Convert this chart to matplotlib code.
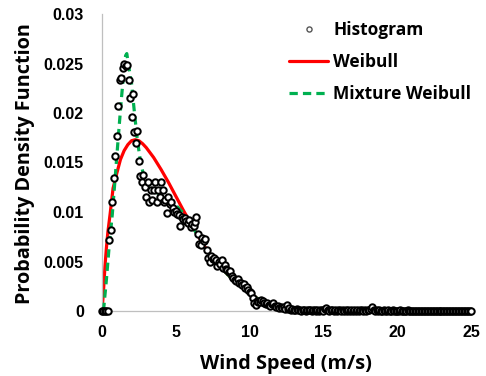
import numpy as np
import matplotlib
matplotlib.use("Agg")
import matplotlib.pyplot as plt
from matplotlib import font_manager

# ---------------- data ----------------
BIN_WIDTH = 0.1
hist_density = [
    # 0.0 - 0.9
    0, 0, 0, 0, 0, 0.0072, 0.0082, 0.0110, 0.0134, 0.0157,
    # 1.0 - 1.9
    0.0177, 0.0207, 0.0233, 0.0235, 0.0245, 0.0249, 0.0247, 0.0248, 0.0233, 0.0215,
    # 2.0 - 2.9
    0.0196, 0.0219, 0.0181, 0.0170, 0.0182, 0.0152, 0.0136, 0.0130, 0.0137, 0.0125,
    # 3.0 - 3.9
    0.0115, 0.0130, 0.0110, 0.0122, 0.0112, 0.0122, 0.0130, 0.0110, 0.0122, 0.0115,
    # 4.0 - 4.9
    0.0130, 0.0122, 0.0110, 0.0112, 0.0099, 0.0115, 0.0108, 0.0110, 0.0104, 0.0100,
    # 5.0 - 5.9
    0.0101, 0.0098, 0.0097, 0.0086, 0.0095, 0.0093, 0.0094, 0.0091, 0.0089, 0.0092,
    # 6.0 - 6.9
    0.0085, 0.0088, 0.0086, 0.0090, 0.0095, 0.0078, 0.0068, 0.0067, 0.0074, 0.0071,
    # 7.0 - 7.9
    0.0073, 0.0062, 0.0054, 0.0050, 0.0056, 0.0053, 0.0054, 0.0052, 0.0045, 0.0049,
    # 8.0 - 8.9
    0.0047, 0.0052, 0.0043, 0.0046, 0.0042, 0.0041, 0.0039, 0.0040, 0.0035, 0.0033,
    # 9.0 - 9.9
    0.0031, 0.0030, 0.0032, 0.0028, 0.0028, 0.0026, 0.0027, 0.0023, 0.0024, 0.0021,
    # 10.0 - 10.9
    0.0019, 0.0018, 0.0013, 0.0008, 0.0006, 0.0010, 0.0009, 0.0009, 0.0011, 0.0010,
    # 11.0 - 11.9
    0.0008, 0.0007, 0.0008, 0.0006, 0.0005, 0.0007, 0.0008, 0.0005, 0.0004, 0.0005,
    # 12.0 - 12.9
    0.0003, 0.0004, 0.0003, 0.0004, 0.0002, 0.0006, 0.0002, 0.0003, 0.0001, 0.0002,
    # 13.0 - 13.9
    0.0001, 0.0001, 0.0002, 0.0001, 0.0001, 0.0000, 0.0001, 0.0001, 0.0000, 0.0001,
    # 14.0 - 14.9
    0.0001, 0.0001, 0.0000, 0.0001, 0.0001, 0.0000, 0.0001, 0.0000, 0.0001, 0.0001,
    # 15.0 - 15.9
    0.0000, 0.0002, 0.0003, 0.0001, 0.0000, 0.0001, 0.0001, 0.0000, 0.0001, 0.0000,
    # 16.0 - 16.9
    0.0001, 0.0001, 0.0000, 0.0001, 0.0000, 0.0001, 0.0000, 0.0001, 0.0000, 0.0001,
    # 17.0 - 17.9
    0.0000, 0.0001, 0.0000, 0.0001, 0.0000, 0.0001, 0.0001, 0.0000, 0.0001, 0.0000,
    # 18.0 - 18.9
    0.0001, 0.0001, 0.0002, 0.0004, 0.0001, 0.0000, 0.0001, 0.0000, 0.0001, 0.0000,
    # 19.0 - 19.9
    0.0000, 0.0001, 0.0000, 0.0000, 0.0001, 0.0000, 0.0000, 0.0001, 0.0000, 0.0000,
    # 20.0 - 20.9
    0.0000, 0.0000, 0.0001, 0.0000, 0.0000, 0.0000, 0.0000, 0.0001, 0.0000, 0.0000,
    # 21.0 - 21.9
    0, 0, 0, 0, 0, 0, 0, 0, 0, 0,
    # 22.0 - 22.9
    0, 0, 0, 0, 0, 0, 0, 0, 0, 0,
    # 23.0 - 23.9
    0, 0, 0, 0, 0, 0, 0, 0, 0, 0,
    # 24.0 - 24.9
    0, 0, 0, 0, 0, 0, 0, 0, 0, 0,
    # 25.0
    0,
]
hist_speed = np.round(np.arange(len(hist_density)) * BIN_WIDTH, 1)

weibull_speed = [0.0, 0.1, 0.2, 0.3, 0.4, 0.55, 0.75, 1.0, 1.25, 1.5, 1.75, 2.0,
                 2.25, 2.5, 2.75, 3.0, 3.5, 4.0, 4.5, 5.0, 5.5, 6.0, 6.5, 7.0,
                 7.5, 8.0, 8.5, 9.0, 9.5, 10.0, 10.5, 11.0, 11.5, 12.0, 13.0,
                 14.0, 15.0, 16.0, 25.0]
weibull_pdf = [0.0, 0.0020, 0.0045, 0.0064, 0.0080, 0.0098, 0.0124, 0.0139,
               0.0153, 0.0162, 0.0168, 0.0172, 0.0173, 0.0172, 0.0169, 0.0165,
               0.0155, 0.0143, 0.0130, 0.0116, 0.0102, 0.0089, 0.0076, 0.0064,
               0.0054, 0.0045, 0.0037, 0.0030, 0.0024, 0.0018, 0.0013, 0.0009,
               0.0006, 0.0004, 0.0002, 0.0001, 0.00004, 0.0, 0.0]

mixture_speed = [0.1, 0.3, 0.5, 0.7, 0.9, 1.1, 1.3, 1.5, 1.6, 1.68, 1.8, 2.0,
                 2.2, 2.4, 2.6, 2.8, 3.0, 3.3, 3.6, 4.0, 4.5, 5.0, 5.5, 6.0,
                 6.5, 7.0, 7.5, 8.0, 8.5, 9.0, 9.5, 10.0, 10.5, 11.0, 11.5,
                 12.0, 13.0, 14.0, 15.0, 16.0, 25.0]
mixture_pdf = [0.0, 0.0032, 0.0068, 0.0098, 0.0136, 0.0175, 0.0212, 0.0245,
               0.0258, 0.0260, 0.0248, 0.0230, 0.0200, 0.0172, 0.0152, 0.0138,
               0.0128, 0.0122, 0.0120, 0.0118, 0.0113, 0.0107, 0.0099, 0.0088,
               0.0076, 0.0064, 0.0054, 0.0045, 0.0037, 0.0030, 0.0024, 0.0018,
               0.0013, 0.0009, 0.0006, 0.0004, 0.0002, 0.0001, 0.00004, 0.0, 0.0]

x_ticks = [0, 5, 10, 15, 20, 25]
y_ticks = [0, 0.005, 0.01, 0.015, 0.02, 0.025, 0.03]
y_tick_labels = ["0", "0.005", "0.01", "0.015", "0.02", "0.025", "0.03"]


def pick_bold_family(cands):
    for fam in cands:
        try:
            path = font_manager.findfont(
                font_manager.FontProperties(family=fam, weight="bold"),
                fallback_to_default=False)
            fp = font_manager.FontProperties(fname=path)
            if "bold" in path.lower() or fp.get_weight() in ("bold", 700):
                return fam
        except Exception:
            pass
    return "Liberation Sans"


LABEL_FAMILY = pick_bold_family(["Open Sans", "Noto Sans", "Lato", "Roboto"])

# ---------------- figure ----------------
W, H = 486, 376
fig = plt.figure(figsize=(W / 100, H / 100), dpi=100)
L, R, T, B = 102, 471, 14, 311
ax = fig.add_axes([L / W, (H - B) / H, (R - L) / W, (B - T) / H])

ax.plot(weibull_speed, weibull_pdf, color="#ff0000", lw=2.3, label="Weibull",
        zorder=2, solid_capstyle="round")
ax.plot(mixture_speed, mixture_pdf, color="#00b050", lw=2.3, ls=(0, (2.6, 1.6)),
        label="Mixture Weibull", zorder=3)
ax.plot(hist_speed, hist_density, ls="none", marker="o", ms=4.6, mfc="white",
        mec="black", mew=1.45, label="Histogram", zorder=4, clip_on=False)

ax.set_xlim(0, 25)
ax.set_ylim(0, 0.03)
ax.set_xticks(x_ticks)
ax.set_yticks(y_ticks)
ax.set_yticklabels(y_tick_labels)
for lbl in ax.get_xticklabels() + ax.get_yticklabels():
    lbl.set_fontfamily("Liberation Sans")
    lbl.set_fontweight("bold")
    lbl.set_fontsize(11.5)
ax.tick_params(axis="both", length=0, colors="black")
ax.tick_params(axis="y", pad=13)
ax.tick_params(axis="x", pad=10)

for s in ["top", "right"]:
    ax.spines[s].set_visible(False)
for s in ["left", "bottom"]:
    ax.spines[s].set_color("#bfbfbf")
    ax.spines[s].set_linewidth(0.9)

label_font = dict(family=LABEL_FAMILY, weight="bold", size=14.3)
ax.set_xlabel("Wind Speed (m/s)", **label_font)
ax.set_ylabel("Probability Density Function", **label_font)
ax.xaxis.set_label_coords(0.499, -0.145)
ax.yaxis.set_label_coords(-0.182, 0.497)

handles, labels = ax.get_legend_handles_labels()
order = [2, 0, 1]
leg = ax.legend([handles[i] for i in order], [labels[i] for i in order],
                loc="upper left",
                bbox_to_anchor=((289 - L) / (R - L), (B - 21) / (B - T)),
                frameon=False, borderpad=0, borderaxespad=0, handlelength=2.25,
                handletextpad=0.3, labelspacing=0.82, markerscale=0.8,
                prop=dict(family=LABEL_FAMILY, weight="bold", size=12.5))
for h in leg.legend_handles:
    if h.get_marker() == "o":
        h.set_markeredgecolor("#555555")
        h.set_markeredgewidth(1.0)

fig.savefig("out.png", dpi=100)
